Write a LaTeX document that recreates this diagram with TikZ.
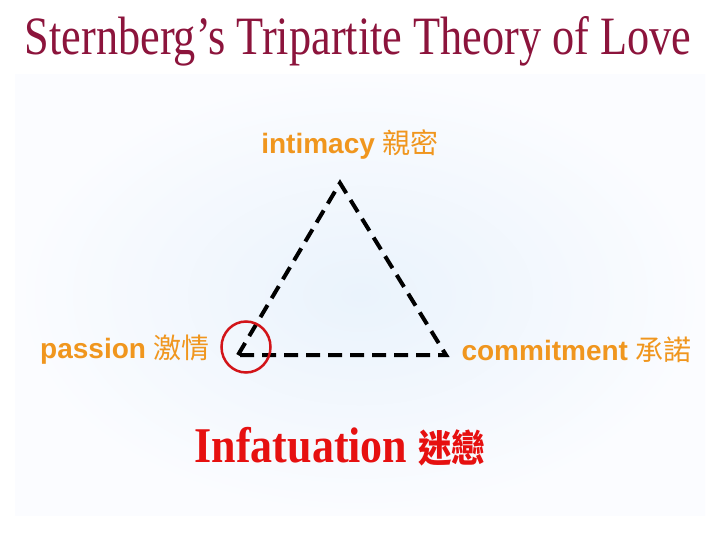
\documentclass[tikz,border=0pt]{standalone}
\usepackage{fontspec}
\setmainfont{Liberation Serif}
\setsansfont{Liberation Sans}
\newfontfamily\cjk{Noto Sans CJK TC}
\definecolor{titlered}{RGB}{140,20,60}
\definecolor{labelorange}{RGB}{240,150,30}
\definecolor{infred}{RGB}{230,16,16}
\definecolor{ringred}{RGB}{210,20,25}
\definecolor{bgcenter}{RGB}{234,243,252}
\definecolor{bgouter}{RGB}{251,252,255}
\tikzset{
  lbl/.style={text=labelorange, font=\sffamily\bfseries\fontsize{28}{32}\selectfont, inner sep=0pt},
  tri/.style={line width=4pt, dash pattern=on 14pt off 8pt, line join=miter},
  ring/.style={draw=ringred, line width=2.5pt, ellipse, minimum width=49pt, minimum height=51pt, inner sep=0pt}
}
\usetikzlibrary{shapes.geometric}
\begin{document}
\begin{tikzpicture}[x=1pt,y=-1pt]
\useasboundingbox (0,0) rectangle (720,540);
\fill[white] (0,0) rectangle (720,540);
\shade[inner color=bgcenter, outer color=bgouter] (15,75) rectangle (705,515);
\node[inner sep=0pt, text=titlered] (title) at (358,41)
  {\scalebox{0.82}[1]{\fontsize{54}{60}\selectfont Sternberg’s Tripartite Theory of Love}};
\coordinate (P) at (238,355);
\coordinate (I) at (340,183);
\coordinate (C) at (446,355);
\draw[tri] (P) -- (I) -- (C) -- cycle;
\node[ring] (focus) at (246,347) {};
\node[lbl] (intimacy) at (350,145) {intimacy {\cjk\mdseries 親密}};
\node[lbl, anchor=west] (passion) at (40,350) {passion {\cjk\mdseries 激情}};
\node[lbl, anchor=east] (commitment) at (692,350) {commitment {\cjk\mdseries 承諾}};
\node[inner sep=0pt, text=infred] (inf) at (340,447)
  {\scalebox{0.88}[1]{\fontsize{50}{56}\selectfont\bfseries Infatuation {\cjk\bfseries\fontsize{38}{40}\selectfont 迷戀}}};
\end{tikzpicture}
\end{document}
